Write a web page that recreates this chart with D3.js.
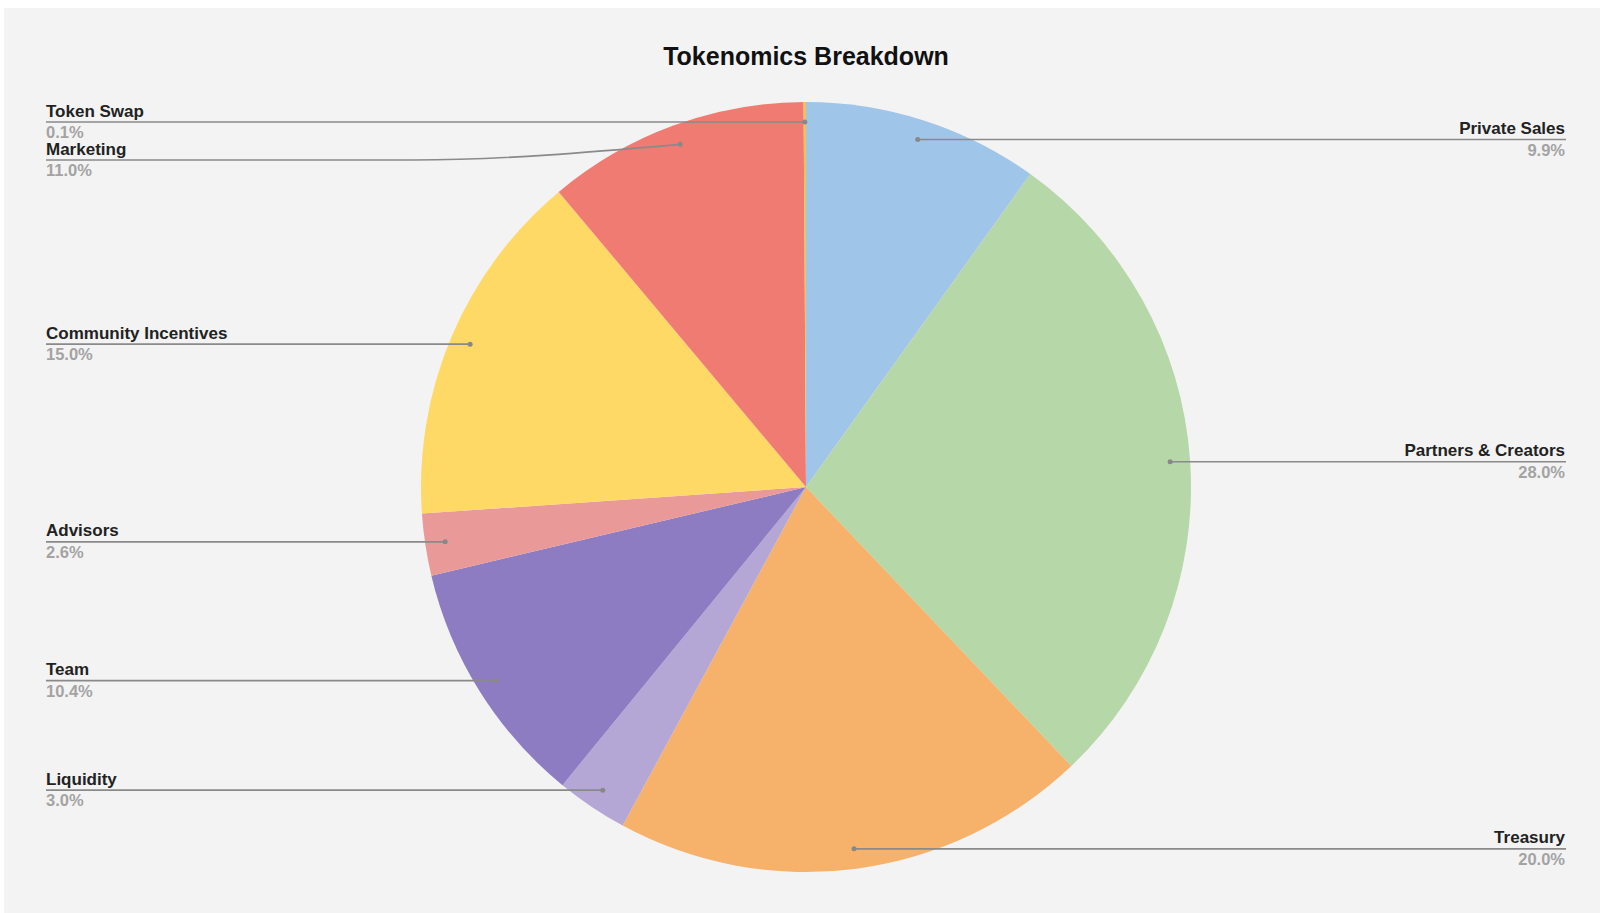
<!DOCTYPE html>
<html>
<head>
<meta charset="utf-8">
<script src="https://cdn.jsdelivr.net/npm/d3@7"></script>
<style>
  body { margin: 0; background: #fff; }
  svg { display: block; font-family: "Liberation Sans", Arial, sans-serif; }
</style>
</head>
<body>
<div class="vis1"></div>
<script>
// slice data, clockwise from 12 o'clock
const categories = ["Private Sales", "Partners & Creators", "Treasury", "Liquidity", "Team",
  "Advisors", "Community Incentives", "Marketing", "Token Swap"];
const shares = [9.9, 28.0, 20.0, 3.0, 10.4, 2.6, 15.0, 11.0, 0.1];
const colors = ["#9fc5e8", "#b6d7a8", "#f6b26b", "#b4a7d6", "#8e7cc3",
  "#ea9999", "#ffd966", "#f07b72", "#f7c14f"];

const width = 1600;
const height = 913;
const cx = 806, cy = 487, radius = 385;

const svg = d3.select(".vis1")
  .append("svg")
  .attr("width", width)
  .attr("height", height);

// gray chart area
svg.append("rect")
  .attr("x", 4)
  .attr("y", 8)
  .attr("width", width - 4)
  .attr("height", height - 8)
  .attr("fill", "#f3f3f3");

svg.append("text")
  .attr("x", 806)
  .attr("y", 65)
  .attr("text-anchor", "middle")
  .style("font-size", "25px")
  .style("font-weight", "bold")
  .attr("fill", "#111")
  .text("Tokenomics Breakdown");

const data = categories.map((c, i) => ({ name: c, value: shares[i], color: colors[i] }));

const pie = d3.pie().sort(null).value(d => d.value);
const arcs = pie(data);

const arc = d3.arc().innerRadius(0).outerRadius(radius);
const anchorArc = d3.arc().innerRadius(365).outerRadius(365);

const g = svg.append("g").attr("transform", "translate(" + cx + "," + cy + ")");

g.selectAll("path.slice")
  .data(arcs)
  .enter().append("path")
  .attr("class", "slice")
  .attr("d", arc)
  .attr("fill", d => d.data.color);

// label layout: right side if mid angle < PI, left otherwise
arcs.forEach(d => {
  const mid = (d.startAngle + d.endAngle) / 2;
  const p = anchorArc.centroid(d);
  d.ax = cx + p[0];
  d.ay = cy + p[1];
  d.side = mid < Math.PI ? "right" : "left";
  d.ly = d.ay;
});

// push overlapping labels apart
["left", "right"].forEach(side => {
  const list = arcs.filter(d => d.side === side).sort((a, b) => a.ay - b.ay);
  for (let i = 1; i < list.length; i++) {
    if (list[i].ly - list[i - 1].ly < 38) list[i].ly = list[i - 1].ly + 38;
  }
});

const leftX = 46, rightX = 1566;

arcs.forEach(d => {
  let pts;
  if (d.side === "left") {
    if (Math.abs(d.ly - d.ay) > 1) {
      pts = [[leftX, d.ly], [413, d.ly], [d.ax, d.ay]];
    } else {
      pts = [[leftX, d.ly], [d.ax, d.ay]];
    }
  } else {
    pts = [[d.ax, d.ay], [rightX, d.ly]];
  }

  svg.append("path")
    .attr("d", d3.line().curve(d3.curveMonotoneX)(pts))
    .attr("fill", "none")
    .attr("stroke", "#8a8a8a")
    .attr("stroke-width", 1.6);

  svg.append("circle")
    .attr("cx", d.ax)
    .attr("cy", d.ay)
    .attr("r", 2.5)
    .attr("fill", "#888");

  const tx = d.side === "left" ? leftX : rightX - 1;
  const anchor = d.side === "left" ? "start" : "end";

  svg.append("text")
    .attr("x", tx)
    .attr("y", d.ly - 5.5)
    .attr("text-anchor", anchor)
    .style("font-size", "17px")
    .style("font-weight", "bold")
    .attr("fill", "#222")
    .text(d.data.name);

  svg.append("text")
    .attr("x", tx)
    .attr("y", d.ly + 16)
    .attr("text-anchor", anchor)
    .style("font-size", "16.5px")
    .style("font-weight", "bold")
    .attr("fill", "#a3a3a3")
    .text(d.data.value.toFixed(1) + "%");
});
</script>
</body>
</html>
